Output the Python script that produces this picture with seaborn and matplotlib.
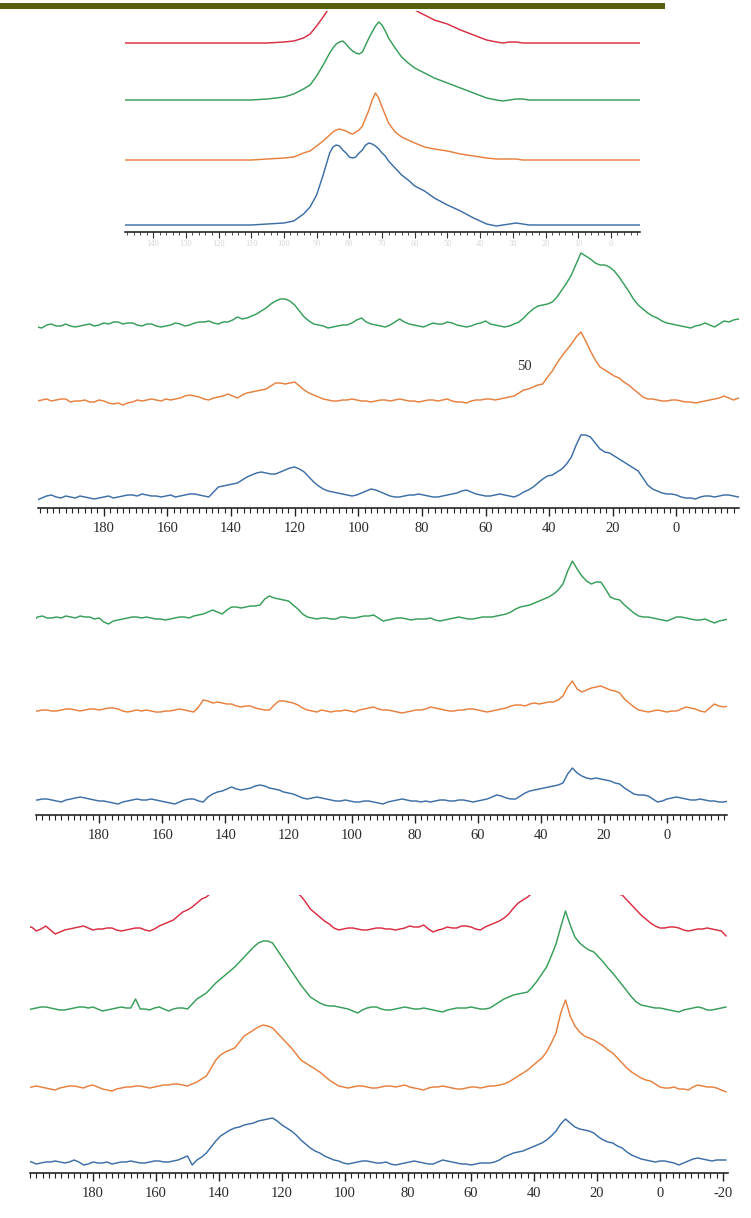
import numpy as np
import pandas as pd
import matplotlib
matplotlib.use('Agg')
import matplotlib.pyplot as plt
from matplotlib.ticker import MultipleLocator, FixedLocator
from matplotlib.patches import Rectangle
import seaborn as sns

sns.set_theme(style='white')
plt.rcParams['font.family'] = ['Liberation Serif', 'DejaVu Serif']
plt.rcParams['figure.facecolor'] = '#FFFFFF'
plt.rcParams['axes.unicode_minus'] = False

BLUE = '#3d6ea7'
ORANGE = '#e6803f'
GREEN = '#369e58'
RED = '#da2d42'

# ---- top panel (smooth spectra) ----
top_ppm = [149, 140, 130, 120, 110, 105, 100, 97, 94, 92, 90, 88, 86,
           85, 84, 83, 82, 81, 80, 79, 78, 77, 76, 75, 74, 73, 72, 71, 70, 69, 68,
           66, 64, 62, 60, 57, 54, 50, 46, 42, 38,
           35, 33, 31, 29, 27, 25, 20, 10, 0, -9]
top_blue = [0, 0, 0, 0, 0, 1, 2, 4, 11, 18, 30, 50, 72,
            78, 80, 79, 75, 72, 68, 67, 68, 72, 75, 80, 82, 81, 79, 76, 72, 69, 64,
            57, 50, 45, 39, 34, 27, 20, 14, 7, 1,
            -1, 0, 1, 2, 1, 0, 0, 0, 0, 0]
top_orange = [0, 0, 0, 0, 0, 1, 2, 3, 7, 9, 14, 19, 25,
              28, 30, 31, 30, 29, 27, 26, 28, 30, 34, 42, 50, 60, 67, 62, 53, 45, 37,
              28, 23, 20, 17, 13, 11, 9, 6, 4, 2,
              1, 1, 1, 1, 0, 0, 0, 0, 0, 0]
top_green = [0, 0, 0, 0, 0, 1, 3, 6, 11, 15, 24, 35, 47,
             52, 56, 58, 59, 56, 52, 49, 47, 46, 48, 55, 62, 68, 74, 78, 75, 69, 62,
             52, 43, 37, 32, 27, 22, 17, 12, 7, 2,
             0, -1, 0, 1, 1, 0, 0, 0, 0, 0]
top_red = [0, 0, 0, 0, 0, 0, 1, 2, 5, 9, 17, 26, 36,
           45, 55, 65, 75, 85, 95, 105, 112, 118, 122, 126, 128, 130, 128, 120, 110, 100, 90,
           75, 60, 45, 33, 28, 23, 19, 13, 8, 3,
           1, 0, 1, 1, 0, 0, 0, 0, 0, 0]
top_ticks = [140, 130, 120, 110, 100, 90, 80, 70, 60, 50, 40, 30, 20, 10, 0]

# ---- lower panels (noisy spectra), shared ppm grid ----
ppm = [201, 199.5, 198, 196.5, 195, 193.5, 192, 190.5, 189, 187.5, 186, 184.5, 183, 181.5, 180,
       178.5, 177, 175.5, 174, 172.5, 171, 169.5, 168, 166.5, 165, 163.5, 162, 160.5, 159,
       157.5, 156, 154.5, 153, 151.5, 150, 148.5, 147, 145.5, 144, 142.5, 141, 139.5, 138, 136.5,
       135, 133.5, 132, 130.5, 129, 127.5, 126, 124.5, 123, 121.5, 120, 118.5, 117, 115.5, 114,
       112.5, 111, 109.5, 108, 106.5, 105, 103.5, 102, 100.5, 99, 97.5, 96, 94.5, 93, 91.5,
       90, 88.5, 87, 85.5, 84, 82.5, 81, 79.5, 78, 76.5, 75, 73.5, 72, 70.5, 69,
       67.5, 66, 64.5, 63, 61.5, 60, 58.5, 57, 55.5, 54, 52.5, 51, 49.5, 48, 46.5,
       45, 43.5, 42, 40.5, 39, 37.5, 36, 34.5, 33, 31.5, 30, 28.5, 27, 25.5, 24,
       22.5, 21, 19.5, 18, 16.5, 15, 13.5, 12, 10.5, 9, 7.5, 6, 4.5, 3, 1.5,
       0, -1.5, -3, -4.5, -6, -7.5, -9, -10.5, -12, -13.5, -15, -16.5, -18, -19.5, -21]

p2_green = [0, -1, 2, 3, 1, 1, 3, 1, 0, 1, 2, 3, 1, 2, 4, 3, 5, 5, 3, 4, 4, 2, 1, 3, 3, 1, 0, 1, 2,
            4, 3, 1, 2, 4, 5, 5, 6, 4, 3, 5, 5, 7, 10, 8, 9, 11, 13, 16, 19, 23, 26, 28, 28, 26, 22, 16, 10, 6, 3,
            2, 1, -1, 0, 1, 2, 2, 4, 7, 9, 5, 3, 2, 1, 0, 2, 5, 8, 5, 3, 2, 1, 0, 2, 4, 3, 3, 5, 4, 2,
            1, 0, 1, 3, 4, 6, 3, 2, 1, 0, 1, 3, 5, 9, 14, 18, 21, 22, 23, 25, 30, 37, 44, 52, 63, 74, 71, 68, 64, 62,
            62, 60, 56, 50, 43, 36, 28, 22, 18, 14, 11, 9, 6, 4, 3, 2, 1, 0, -1, 1, 2, 4, 2, 0, 3, 6, 5, 7, 8, 7]
p2_orange = [0, 1, 2, 0, 1, 2, 2, -1, 0, 0, 1, -1, -1, 1, 0, -2, -3, -2, -4, -2, -1, 1, 0, 1, 2, 1, 0, 2, 1,
             2, 3, 5, 6, 5, 4, 2, 1, 3, 4, 5, 7, 5, 3, 6, 8, 9, 10, 11, 12, 15, 18, 18, 17, 18, 19, 15, 11, 8, 6,
             4, 2, 1, 0, 0, 1, 1, 2, 1, 0, 0, -1, 0, 1, 1, 0, 1, 2, 1, 0, 0, -1, 0, 1, 1, 0, 1, 2, 0, -1,
             -1, -2, 0, 1, 1, 2, 2, 1, 2, 3, 4, 5, 8, 11, 12, 14, 16, 17, 24, 30, 38, 45, 51, 57, 64, 69, 60, 50, 41, 34,
             31, 28, 25, 23, 19, 16, 12, 8, 4, 2, 2, 1, 0, 0, 1, 1, 0, -1, -1, -2, -1, 0, 1, 2, 3, 5, 3, 1, 3, 4]
p2_blue = [-3, -1, 1, 2, 0, -1, 1, 0, -1, 1, 0, -1, -2, -1, 0, 1, -1, 0, 1, 2, 2, 1, 3, 2, 1, 1, 0, 1, 2,
           0, 1, 2, 3, 3, 2, 1, 0, 5, 10, 11, 12, 13, 14, 17, 20, 22, 24, 25, 24, 23, 23, 25, 27, 29, 30, 28, 25, 20, 15,
           11, 8, 6, 5, 4, 3, 2, 1, 2, 4, 6, 8, 7, 5, 3, 1, 0, 0, 1, 2, 2, 3, 2, 1, 0, 0, 1, 2, 3, 4,
           6, 7, 5, 3, 2, 1, 1, 2, 3, 2, 1, 0, 2, 5, 7, 10, 14, 18, 21, 22, 25, 28, 33, 40, 52, 62, 62, 60, 54, 48,
           45, 44, 41, 38, 35, 32, 29, 26, 19, 12, 8, 6, 4, 3, 3, 2, 0, -1, -1, -2, 0, 1, 1, 0, 1, 2, 2, 1, 0, 0]

p3_green = [-2, 2, 3, 1, 1, 2, 1, 3, 2, 1, 3, 2, 2, 0, 1, -3, -5, -2, -1, 0, 1, 2, 2, 1, 2, 1, 0, 0, -1,
            0, 1, 2, 2, 1, 3, 4, 5, 7, 9, 7, 5, 9, 12, 12, 11, 12, 13, 13, 14, 20, 23, 21, 20, 19, 18, 14, 10, 5, 2,
            1, 0, 1, 1, 0, 0, 2, 2, 1, 1, 2, 3, 3, 4, 1, -2, -1, 0, 1, 1, 0, -1, 0, 0, 0, 1, -1, -2, -1, 0,
            1, 2, 1, 0, 0, 1, 2, 2, 2, 3, 4, 5, 7, 10, 12, 13, 14, 16, 18, 20, 22, 25, 29, 35, 48, 58, 50, 43, 38, 35,
            37, 37, 30, 22, 20, 19, 14, 10, 6, 3, 2, 2, 1, 0, -1, -2, 0, 2, 2, 1, 0, -1, -1, 0, -2, -4, -2, -1, 0, -1]
p3_orange = [-1, 0, 1, 1, 0, 0, 1, 2, 2, 1, 0, 1, 2, 2, 1, 2, 3, 3, 2, 0, -1, 0, 1, 0, 1, 0, -1, -1, 0,
             0, 1, 2, 1, 0, -1, 4, 11, 10, 8, 9, 8, 7, 7, 5, 4, 5, 5, 3, 2, 1, 1, 6, 10, 10, 9, 8, 6, 3, 1,
             0, -1, 1, 0, -1, 0, 0, 1, 0, -1, 1, 2, 3, 4, 2, 1, 1, 0, -1, -2, -1, 0, 1, 1, 2, 4, 3, 2, 1, 0,
             0, 1, 1, 2, 2, 1, 0, -1, 0, 1, 2, 3, 5, 6, 6, 5, 7, 8, 7, 8, 9, 9, 11, 15, 24, 30, 22, 19, 21, 23,
             24, 25, 23, 21, 20, 18, 12, 8, 4, 1, 0, -1, 0, 1, 0, -1, 0, 0, 2, 4, 3, 2, 0, -1, 3, 7, 5, 4, 5, 5]
p3_blue = [1, 1, 2, 2, 1, 0, -1, 1, 2, 3, 4, 3, 2, 1, 0, 0, -1, -2, -3, -1, 0, 1, 2, 1, 1, 2, 1, 0, -1,
           -2, -3, -1, 1, 2, 2, 0, -1, 4, 7, 9, 10, 12, 14, 12, 11, 12, 13, 15, 16, 15, 13, 12, 11, 9, 8, 7, 5, 3, 2,
           3, 4, 3, 2, 1, 0, 0, 1, 0, -1, -1, 0, 0, -1, -2, -3, -1, 0, 1, 2, 1, 0, 0, -1, 0, -1, 0, 1, 1, 0,
           0, 1, 1, 0, -1, 0, 1, 2, 4, 6, 5, 3, 2, 2, 5, 8, 10, 11, 12, 13, 14, 15, 16, 18, 27, 33, 28, 25, 23, 22,
           23, 22, 21, 20, 18, 17, 13, 10, 7, 6, 6, 5, 2, -1, 0, 2, 3, 4, 3, 2, 1, 1, 2, 1, 0, 0, -1, -1, 0, -1]

p4_red = [1, 2, -2, 0, 3, -1, -5, -3, -1, 0, 1, 2, 3, 1, -1, 0, 0, 1, 1, -1, -2, -1, 0, 1, 1, -1, -2, 0, 3,
          5, 7, 9, 13, 17, 19, 22, 26, 30, 32, 36, 40, 44, 48, 51, 55, 58, 60, 61, 62, 61, 60, 58, 55, 52, 48, 44, 40, 37, 33,
          27, 20, 16, 12, 8, 5, 1, -1, 0, 1, 1, 0, -1, -1, 0, 1, 1, 0, 0, -1, 0, 1, 3, 2, 2, 4, 0, -3, -1, 0,
          2, 1, 1, 3, 3, 2, 0, -1, 2, 4, 6, 8, 11, 15, 21, 26, 29, 32, 36, 40, 45, 50, 57, 65, 80, 90, 82, 75, 68, 62,
          58, 55, 50, 45, 41, 38, 35, 34, 29, 24, 19, 14, 10, 6, 3, 1, 1, 2, 2, 1, -1, -2, -1, 0, 0, 1, 0, -1, -2, -7]
p4_green = [-1, 0, 1, 2, 2, 1, 0, -1, -1, 0, 1, 2, 2, 1, 2, 0, -2, -1, 0, 1, 2, 1, 1, 10, 0, 0, -1, 1, 2,
            0, -2, 0, 1, 1, 0, 5, 10, 13, 16, 21, 26, 30, 34, 38, 42, 47, 52, 57, 62, 66, 68, 68, 66, 59, 52, 45, 38, 31, 24,
            18, 12, 9, 6, 4, 3, 3, 2, 1, 0, -2, -4, -1, 1, 2, 2, 0, -1, -1, 0, 1, 2, 1, 0, 0, 1, 0, -1, -2, -3,
            -1, 0, 1, 1, 1, 2, 1, 0, 0, 1, 4, 7, 10, 12, 14, 15, 16, 17, 22, 28, 35, 42, 53, 65, 82, 98, 84, 72, 66, 62,
            59, 57, 52, 47, 41, 36, 30, 24, 18, 12, 7, 4, 3, 2, 1, 1, 0, -1, -2, -3, -1, 0, 1, 2, 1, -1, -1, 0, 1, 2]
p4_orange = [0, 1, 2, 1, 0, -1, -2, 0, 1, 2, 2, 1, 0, 2, 3, 1, -1, -2, -3, -1, 0, 1, 1, 2, 2, 1, 0, 1, 2,
             3, 3, 4, 4, 3, 2, 4, 6, 9, 12, 20, 28, 33, 36, 38, 40, 46, 52, 55, 58, 61, 63, 62, 60, 55, 50, 45, 40, 34, 28,
             25, 22, 19, 16, 12, 8, 5, 2, 1, 0, 1, 2, 2, 1, 0, 0, 1, 2, 2, 1, 2, 3, 1, 0, -1, -2, 0, 1, 1, 2,
             1, 0, -1, -1, 0, 1, 1, 0, 1, 2, 2, 3, 4, 6, 9, 12, 15, 18, 22, 26, 30, 36, 45, 55, 75, 88, 72, 62, 56, 52,
             50, 48, 45, 42, 38, 35, 30, 25, 20, 16, 13, 10, 8, 7, 4, 1, 0, 0, 1, -1, -1, -2, 1, 3, 2, 1, 1, 0, -2, -4]
p4_blue = [2, 1, -1, 0, 1, 1, 2, 1, 0, 1, 3, 1, -2, -1, 1, 0, 0, 1, -1, 0, 1, 1, 2, 1, 0, 0, 1, 2, 2,
           1, 1, 2, 3, 5, 7, -2, 3, 6, 10, 16, 22, 27, 30, 33, 35, 36, 38, 39, 40, 42, 43, 44, 45, 42, 38, 35, 32, 28, 23,
           19, 15, 12, 10, 7, 5, 3, 2, 0, -1, 0, 1, 2, 2, 1, 0, 0, 1, -1, -2, -1, 0, 1, 2, 1, 0, -1, -1, 1, 3,
           2, 1, 0, -1, -1, -2, -1, 0, 0, 0, 1, 3, 6, 8, 10, 11, 12, 14, 16, 18, 20, 23, 27, 32, 39, 44, 40, 36, 34, 33,
           32, 30, 26, 23, 21, 20, 17, 15, 11, 8, 6, 4, 3, 2, 1, 2, 2, 1, 0, -2, 0, 2, 4, 5, 4, 3, 2, 3, 3, 3]

ppm_labels = [180, 160, 140, 120, 100, 80, 60, 40, 20, 0]

for name, vals in [('p2_green', p2_green), ('p2_orange', p2_orange), ('p2_blue', p2_blue),
                   ('p3_green', p3_green), ('p3_orange', p3_orange), ('p3_blue', p3_blue),
                   ('p4_red', p4_red), ('p4_green', p4_green), ('p4_orange', p4_orange),
                   ('p4_blue', p4_blue)]:
    if len(vals) != len(ppm):
        raise ValueError(f'{name}: {len(vals)} values, expected {len(ppm)}')


def draw(ax, x, traces, xlim, height):
    for vals, offset, color in traces:
        sns.lineplot(x=x, y=np.array(vals) + offset, color=color, lw=1.05,
                     sort=False, estimator=None, ax=ax)
    ax.set_xlim(*xlim)
    ax.set_ylim(0, height)
    ax.set_yticks([])
    ax.set_xlabel('')
    ax.set_ylabel('')
    for s in ['left', 'top', 'right']:
        ax.spines[s].set_visible(False)
    ax.spines['bottom'].set_color('#111111')
    ax.spines['bottom'].set_linewidth(1.1)
    ax.patch.set_alpha(0)


fig = plt.figure(figsize=(7.51, 12.18), dpi=100)
W, H = 751, 1218


def add_ax(x0, x1, y0, y1):
    return fig.add_axes([x0 / W, 1 - y1 / H, (x1 - x0) / W, (y1 - y0) / H])


# top panel
ax1 = add_ax(125, 640, 11, 232)
draw(ax1, top_ppm, [(top_blue, 7, BLUE), (top_orange, 72, ORANGE),
                    (top_green, 132, GREEN), (top_red, 189, RED)],
     (148.6, -8.9), 221)
ax1.xaxis.set_major_locator(FixedLocator(top_ticks))
ax1.xaxis.set_minor_locator(MultipleLocator(2))
ax1.tick_params(axis='x', which='major', bottom=True, direction='out', length=4,
                width=0.8, color='#333333', labelsize=6, labelcolor='#d6d6d6', pad=2)
ax1.tick_params(axis='x', which='minor', bottom=True, direction='out', length=2.5,
                width=0.6, color='#333333')

# panel 2
ax2 = add_ax(38, 739, 240, 508)
draw(ax2, ppm, [(p2_blue, 11, BLUE), (p2_orange, 107, ORANGE), (p2_green, 181, GREEN)],
     (200.7, -19.7), 268)
ax2.text(47.9, 141, '50', fontsize=10.5, color='#333333', ha='center', va='center')

# panel 3
ax3 = add_ax(36, 727, 540, 815)
draw(ax3, ppm, [(p3_blue, 14, BLUE), (p3_orange, 104, ORANGE), (p3_green, 196, GREEN)],
     (200, -19), 275)

# panel 4
ax4 = add_ax(30, 728, 895, 1173)
draw(ax4, ppm, [(p4_blue, 10, BLUE), (p4_orange, 85, ORANGE),
                (p4_green, 164, GREEN), (p4_red, 244, RED)],
     (200, -21.6), 278)

for ax, labels in [(ax2, ppm_labels), (ax3, ppm_labels), (ax4, ppm_labels + [-20])]:
    ax.xaxis.set_major_locator(FixedLocator(labels))
    ax.xaxis.set_minor_locator(MultipleLocator(2))
    ax.tick_params(axis='x', which='major', bottom=True, direction='out', length=6,
                   width=1.0, color='#222222', labelsize=10.5, labelcolor='#2a2a2a', pad=4)
    ax.tick_params(axis='x', which='minor', bottom=True, direction='out', length=3.5,
                   width=0.8, color='#222222')

# olive header bar
fig.add_artist(Rectangle((0, 1 - 8.5 / H), 665 / W, 5.5 / H, transform=fig.transFigure,
                         color='#56600c', lw=0))

fig.savefig('out.png', dpi=100)
